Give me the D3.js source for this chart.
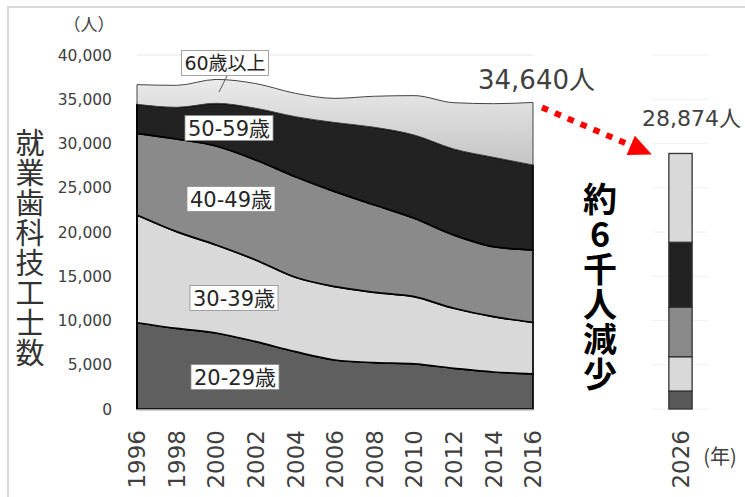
<!DOCTYPE html>
<html>
<head>
<meta charset="utf-8">
<script src="https://cdn.jsdelivr.net/npm/d3@7"></script>
<style>
  body { margin: 0; background: #fff; }
  svg text { font-family: "DejaVu Sans", "Noto Sans CJK JP", sans-serif; fill: #404040; }
  .jp { font-family: "Noto Sans CJK JP", sans-serif; }
  .vert { writing-mode: vertical-rl; text-orientation: upright; }
</style>
</head>
<body>
<svg id="chart" width="745" height="497"></svg>
<script>

// data (人)
let years = [1996, 1998, 2000, 2002, 2004, 2006, 2008, 2010, 2012, 2014, 2016];
let age20 = [9750, 9110, 8590, 7610, 6480, 5540, 5240, 5090, 4600, 4180, 3960];
let age30 = [12170, 10930, 9940, 9230, 8400, 8280, 7940, 7600, 6780, 6250, 5830];
let age40 = [9230, 10470, 11190, 11300, 11370, 10740, 9870, 8860, 8280, 7910, 8180];
let age50 = [3280, 3580, 4820, 5840, 6780, 7810, 8780, 9410, 9720, 10100, 9600];
let age60 = [2220, 2480, 2700, 2790, 2640, 2730, 3510, 4450, 5230, 6060, 7070];
let groups = ["20-29歳", "30-39歳", "40-49歳", "50-59歳", "60歳以上"];
let futureYear = "2026";
let future = [2030, 3880, 5580, 7350, 10034];
let yTicks = [0, 5000, 10000, 15000, 20000, 25000, 30000, 35000, 40000];
let xTicks = [1996, 1998, 2000, 2002, 2004, 2006, 2008, 2010, 2012, 2014, 2016];

let colors = ["#5f5f5f", "#d9d9d9", "#8a8a8a", "#222222", "url(#g60)"];
let barColors = ["#595959", "#d9d9d9", "#8a8a8a", "#222222", "#d9d9d9"];

let svg = d3.select("#chart");

// frame
svg.append("rect").attr("x", 8).attr("y", 7).attr("width", 745).attr("height", 500)
    .attr("fill", "none").attr("stroke", "#d9d9d9").attr("stroke-width", 2);

let x = d3.scaleLinear().domain([1996, 2016]).range([137, 533]);
let y = d3.scaleLinear().domain([0, 40000]).range([409, 55]);
let xb = d3.scaleBand().domain([futureYear]).range([652, 709]).paddingInner(0.42).paddingOuter(0.42);

let defs = svg.append("defs");
let grad = defs.append("linearGradient").attr("id", "g60")
    .attr("gradientUnits", "userSpaceOnUse").attr("x1", 0).attr("y1", 78).attr("x2", 0).attr("y2", 166);
grad.append("stop").attr("offset", 0).attr("stop-color", "#ebebeb");
grad.append("stop").attr("offset", 1).attr("stop-color", "#c4c4c4");

// table for the stack
let table = years.map((yr, i) => ({
    year: yr, a20: age20[i], a30: age30[i], a40: age40[i], a50: age50[i], a60: age60[i]
}));
let keys = ["a20", "a30", "a40", "a50", "a60"];
let series = d3.stack().keys(keys)(table);

// grid lines
svg.append("line").attr("x1", x(1996)).attr("x2", x(2016)).attr("y1", y(40000)).attr("y2", y(40000))
    .attr("stroke", "#e3e3e3").attr("stroke-width", 1);
svg.append("g").selectAll("line").data(yTicks).enter().append("line")
    .attr("x1", 652).attr("x2", 709)
    .attr("y1", d => y(d)).attr("y2", d => y(d))
    .attr("stroke", "#f0f0f0").attr("stroke-width", 1);

let area = d3.area()
    .x(d => x(d.data.year))
    .y0(d => y(d[0]))
    .y1(d => y(d[1]))
    .curve(d3.curveMonotoneX);

svg.append("g").selectAll("path").data(series).enter().append("path")
    .attr("d", area)
    .attr("fill", (d, i) => colors[i])
    .attr("stroke", (d, i) => i == 4 ? "#444" : "#000")
    .attr("stroke-width", (d, i) => i == 4 ? 1 : 1.7)
    .attr("stroke-linejoin", "round");

// left edge
svg.append("line").attr("x1", x(1996)).attr("x2", x(1996))
    .attr("y1", y(0)).attr("y2", y(series[3][0][1]))
    .attr("stroke", "#000").attr("stroke-width", 2);

// bottom axis line
svg.append("line").attr("x1", x(1996)).attr("x2", x(2016)).attr("y1", y(0) + 1).attr("y2", y(0) + 1)
    .attr("stroke", "#bfbfbf").attr("stroke-width", 1.5);

// y axis labels
svg.append("g").selectAll("text").data(yTicks).enter().append("text")
    .attr("x", 112).attr("y", d => y(d)).attr("dy", "0.36em")
    .attr("text-anchor", "end").style("font-size", "15.5px")
    .text(d => d3.format(",")(d));

svg.append("text").attr("class", "jp").attr("x", 89).attr("y", 31)
    .attr("text-anchor", "middle").style("font-size", "17px").text("（人）");

// x axis labels
svg.append("g").selectAll("text").data(xTicks).enter().append("text")
    .attr("transform", d => "translate(" + x(d) + ",430) rotate(-90)")
    .attr("dy", "0.36em").attr("text-anchor", "end").style("font-size", "23px")
    .text(d => d);

svg.append("text")
    .attr("transform", "translate(" + (xb(futureYear) + xb.bandwidth() / 2) + ",430) rotate(-90)")
    .attr("dy", "0.36em").attr("text-anchor", "end").style("font-size", "23px")
    .text(futureYear);
svg.append("text").attr("class", "jp").attr("x", 720).attr("y", 464)
    .attr("text-anchor", "middle").style("font-size", "20px").text("(年)");

// 2026 stacked bar
let cum = [0];
for (let k = 0; k < future.length; k++) { cum.push(cum[k] + future[k]); }
svg.append("g").selectAll("rect").data(future).enter().append("rect")
    .attr("x", xb(futureYear)).attr("width", xb.bandwidth())
    .attr("y", (d, i) => y(cum[i + 1]))
    .attr("height", (d, i) => y(cum[i]) - y(cum[i + 1]))
    .attr("fill", (d, i) => barColors[i])
    .attr("stroke", "#333").attr("stroke-width", 1.3);

// totals
let total2016 = d3.sum(keys, k => table[table.length - 1][k]);
let total2026 = d3.sum(future);
svg.append("text").attr("x", 478).attr("y", 89).style("font-size", "26px")
    .text(d3.format(",")(total2016) + "人");
svg.append("text").attr("x", 642).attr("y", 126).style("font-size", "22px")
    .text(d3.format(",")(total2026) + "人");

// red dotted arrow
let p0 = [x(2016) + 9, y(total2016) + 5];
let tip = [xb(futureYear) - 17, y(total2026) + 1];
let ang = Math.atan2(tip[1] - p0[1], tip[0] - p0[0]);
let hl = 23, hw = 10.5;
let base = [tip[0] - hl * Math.cos(ang), tip[1] - hl * Math.sin(ang)];
svg.append("line").attr("x1", p0[0]).attr("y1", p0[1]).attr("x2", base[0]).attr("y2", base[1])
    .attr("stroke", "#ff0000").attr("stroke-width", 6).attr("stroke-dasharray", "6.5,7.5");
svg.append("path")
    .attr("d", "M" + tip + "L" + [base[0] - hw * Math.sin(ang), base[1] + hw * Math.cos(ang)]
        + "L" + [base[0] + hw * Math.sin(ang), base[1] - hw * Math.cos(ang)] + "Z")
    .attr("fill", "#ff0000");

// vertical texts
svg.append("text").attr("class", "jp vert")
    .attr("x", 30).attr("y", 128)
    .style("font-size", "29px").style("letter-spacing", "1px").style("fill", "#333")
    .text("就業歯科技工士数");
svg.append("text").attr("class", "jp vert")
    .attr("x", 600).attr("y", 182)
    .style("font-size", "34px").style("font-weight", "bold").style("letter-spacing", "1px")
    .style("fill", "#000")
    .text("約6千人減少");

// series labels
let labels = [
    {text: groups[4], cx: 225, cy: 63, size: 19},
    {text: groups[3], cx: 229, cy: 128, size: 21},
    {text: groups[2], cx: 231, cy: 199, size: 21},
    {text: groups[1], cx: 234, cy: 298, size: 21},
    {text: groups[0], cx: 235, cy: 377, size: 21}
];
// leader line for 60歳以上
svg.append("line").attr("x1", 227).attr("y1", 76).attr("x2", 219).attr("y2", 92)
    .attr("stroke", "#595959").attr("stroke-width", 1);

labels.forEach(function(l) {
    let g = svg.append("g");
    let r = g.append("rect").attr("fill", "#fff").attr("stroke", "#8c8c8c").attr("stroke-width", 0.8);
    let t = g.append("text").attr("x", l.cx).attr("y", l.cy).attr("dy", "0.36em")
        .attr("text-anchor", "middle").style("font-size", l.size + "px").style("fill", "#262626")
        .text(l.text);
    let bb = t.node().getBBox();
    r.attr("x", bb.x - 3).attr("y", l.cy - 12.5).attr("width", bb.width + 6).attr("height", 25);
});

</script>
</body>
</html>
